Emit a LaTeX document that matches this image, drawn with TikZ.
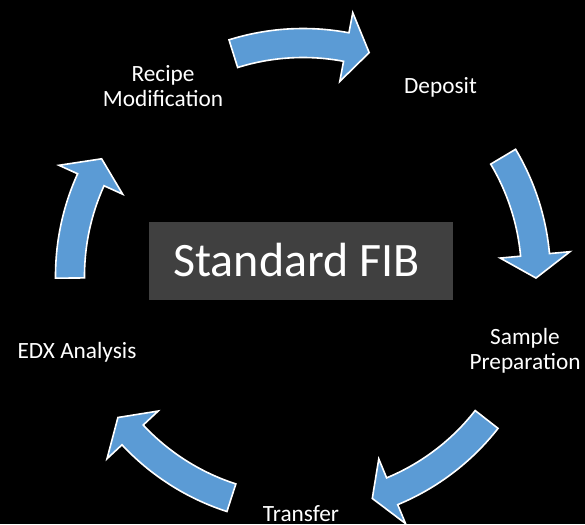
\documentclass[tikz,border=0pt]{standalone}
\usepackage{fontspec}
\setmainfont{Carlito}
\definecolor{arrowblue}{HTML}{5B9BD5}
\definecolor{boxgray}{HTML}{404040}
\newcommand\cycarrow[3]{%
  \draw[cyc] (#1:247.5) arc[start angle=#1, end angle=#2, radius=247.5]
    -- (#2:268) -- (#3:233) -- (#2:198) -- (#2:218.5)
    arc[start angle=#2, end angle=#1, radius=218.5] -- cycle;}
\begin{document}
\begin{tikzpicture}[x=1pt,y=-1pt,
  lbl/.style={text=white, font=\fontsize{23.3}{25}\selectfont, align=center, inner sep=0pt, anchor=base},
  cyc/.style={fill=arrowblue, draw=white, line width=1.6pt, line join=miter}]
\fill[black] (0,0) rectangle (585,524);
\useasboundingbox (0,0) rectangle (585,524);
\begin{scope}[shift={(303,276)}]
  \cycarrow{-107.4}{-79.3}{-73.5}
  \cycarrow{-30.8}{-5.2}{0.5}
  \cycarrow{38.0}{67.5}{72.7}
  \cycarrow{107.9}{137.0}{142.6}
  \cycarrow{179.5}{204.4}{210.2}
\end{scope}
\node[fill=boxgray, minimum width=304pt, minimum height=78pt, inner sep=0pt] (fib) at (301,261) {};
\node[text=white, font=\fontsize{48}{58}\selectfont, inner sep=0pt, anchor=base] (fibtext) at (296.5,276) {Standard FIB};
\node[lbl] (deposit) at (440.5,93.5) {Deposit};
\node[lbl] (sample) at (525,369.3) {Sample\\Preparation};
\node[lbl] (transfer) at (301,521) {Transfer};
\node[lbl] (edx) at (77,358.3) {EDX Analysis};
\node[lbl] (recipe) at (163,106.7) {Recipe\\Modification};
\end{tikzpicture}
\end{document}
